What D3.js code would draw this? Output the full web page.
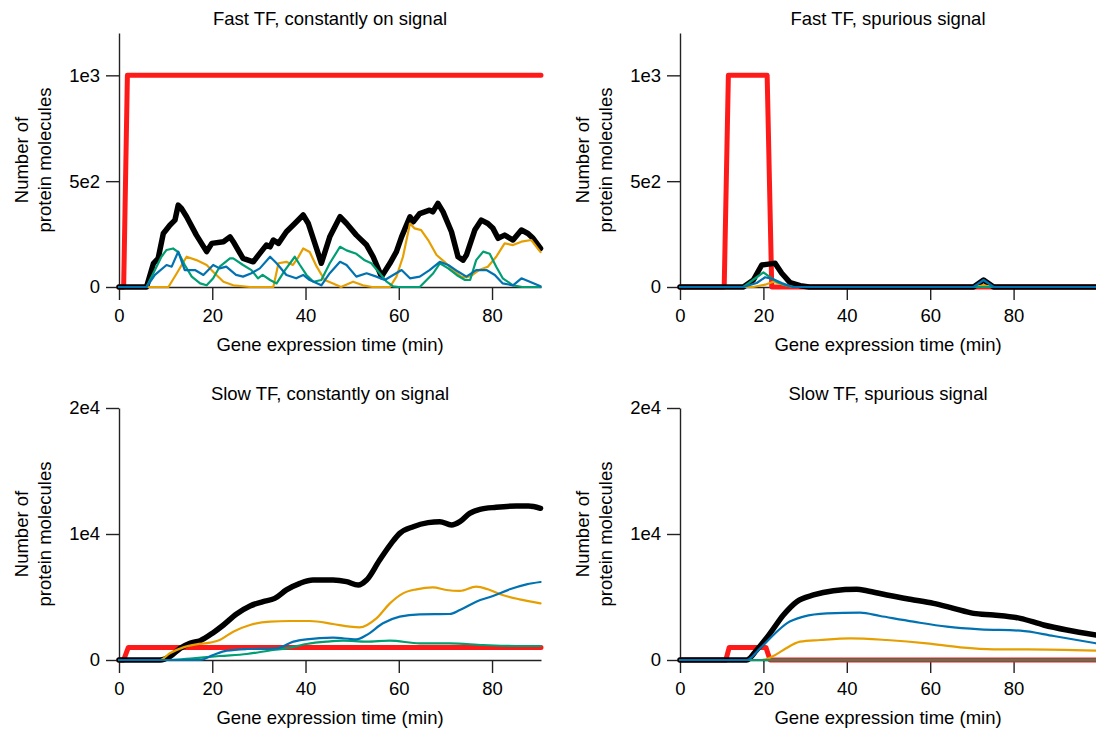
<!DOCTYPE html>
<html>
<head>
<meta charset="utf-8">
<script src="https://cdn.jsdelivr.net/npm/d3@7.9.0/dist/d3.min.js"></script>
<style>
  body { margin: 0; background: #fff; }
  svg { display: block; font-family: "Liberation Sans", Arial, Helvetica, sans-serif; }
  .tick text { font-size: 18.5px; fill: #000; }
  .domain, .tick line { stroke: #222; stroke-width: 1.4; }
</style>
</head>
<body>
<svg id="chart" width="1096" height="731"></svg>
<script>
// values, [minute, molecules]
const fastOnRed = [[0, 0], [1, 0], [1.8, 1000], [90.5, 1000]];
const fastOnBlack = [[0,0],[5.9,0],[7.4,112],[8.4,135],[9.5,253],[10.9,292],[12,316],[12.7,387],[13.4,371],[14.5,332],[16.6,245],[18.8,167],[19.9,206],[22.4,214],[23.8,237],[24.5,214],[26.6,135],[28.8,119],[30.2,159],[31.6,198],[32.4,190],[33.1,222],[34.2,206],[35.9,261],[37.7,300],[39.5,340],[40.6,300],[43.4,112],[45.2,237],[47.4,332],[48.8,300],[50.9,245],[53.1,198],[54.5,143],[56.3,49],[58.1,112],[59.5,167],[60.6,237],[62.4,332],[63.1,308],[64.5,347],[66.6,363],[67.3,355],[68.4,395],[69.5,355],[71.3,261],[72.7,143],[73.8,127],[74.5,151],[76.3,269],[77.7,316],[79.1,300],[80.2,277],[81.3,230],[82.7,245],[84.5,222],[86.3,269],[87.7,253],[88.8,230],[90.4,182]];
const fastOnOrange = [[0,0],[10.6,0],[12.4,65],[14.5,143],[16.6,127],[18.8,104],[20.5,65],[22.4,25],[24.5,8],[28.1,0],[33.1,0],[34.2,112],[35.9,119],[37.3,104],[38.3,135],[39.5,182],[40.9,165],[42.4,96],[44.1,33],[45.9,17],[47.6,0],[50.2,25],[52.3,8],[54.3,0],[58.1,0],[59.5,49],[60.9,143],[62.4,300],[63.4,277],[64.8,269],[66.3,222],[68.1,151],[69.8,119],[71.6,80],[73.4,49],[74.5,45],[75.8,57],[77.2,80],[79.1,96],[80.9,143],[82.7,206],[84.5,198],[86.3,214],[88.4,222],[90.4,165]];
const fastOnGreen = [[0,0],[5.9,0],[7.7,80],[9.1,143],[10.2,175],[11.6,182],[12.7,165],[14.1,104],[15.6,49],[17.4,17],[18.8,8],[20.2,41],[21.6,96],[23.8,135],[24.5,135],[26.6,104],[28.4,80],[29.8,41],[30.8,57],[32.4,33],[33.8,17],[35.6,80],[37.7,143],[38.8,104],[40.2,57],[41.7,25],[43.4,33],[45.2,112],[47.4,190],[48.8,173],[50.9,157],[52.7,126],[54.1,112],[55.9,65],[57.4,25],[58.8,3],[60,0],[64.5,0],[67.4,65],[68.8,112],[70.6,88],[72.4,57],[74.2,33],[75.3,33],[76.6,127],[78.1,167],[79.5,157],[80.9,96],[82.3,41],[84.5,8],[86.5,0],[90.4,0]];
const fastOnBlue = [[0,0],[5.9,0],[7.7,57],[10.2,104],[11.3,96],[12.7,167],[14.1,80],[16.3,80],[18.1,57],[20.2,104],[21.6,88],[23,96],[25.1,57],[26.6,49],[28.4,65],[30.2,88],[32.4,143],[33.8,112],[35.9,57],[38,41],[39.5,57],[40.9,33],[43.4,8],[45.2,65],[47.4,119],[48.8,104],[50.9,49],[53.1,65],[55.2,49],[57,33],[58.8,57],[60.6,80],[62.4,41],[64.5,49],[66.6,80],[68.8,119],[70.6,104],[72.7,73],[74.5,49],[76.6,80],[78.8,80],[80.6,57],[82.3,17],[84.5,8],[86.3,41],[88.1,25],[90.4,3]];

const fastSpurRed = [[0,0],[10.6,0],[11.6,1000],[20.9,1000],[22,0],[100,0]];
const fastSpurBlack = [[0,0],[15.2,0],[17.6,33],[19.6,104],[21.2,108],[22.8,112],[24.4,65],[26.4,21],[28.8,6],[31,0],[70.4,0],[72.8,33],[75.2,0],[100,0]];
const fastSpurOrange = [[0,0],[17.5,0],[20.4,11],[22.4,25],[24.8,11],[27,0],[70.4,0],[72.8,8],[75.2,0],[100,0]];
const fastSpurGreen = [[0,0],[15.2,0],[18.4,46],[20,69],[21.6,46],[23.2,25],[25.6,6],[27.5,0],[100,0]];
const fastSpurBlue = [[0,0],[15.2,0],[18.4,19],[20.4,46],[22.4,37],[24.4,19],[27,0],[70.4,0],[72.8,33],[75.2,0],[100,0]];

const slowOnRed = [[0,0],[1,0],[2,1000],[90.5,1000]];
const slowOnBlack = [[0,0],[8.8,0],[10.9,262],[13.1,925],[15.2,1323],[17.4,1534],[20.2,2170],[22.4,2780],[25.2,3650],[28.1,4290],[30.9,4630],[33.4,4890],[35.9,5560],[38.8,6085],[41.6,6350],[45.9,6350],[48.8,6220],[51.3,5950],[53.1,6350],[55.9,7940],[58.4,9260],[60.2,10050],[63.1,10580],[66.3,10900],[68.8,10980],[71.3,10710],[73.1,10980],[75.2,11640],[77.4,11960],[80.9,12120],[85.2,12220],[87.8,12220],[90.4,12040]];
const slowOnOrange = [[0,0],[8.8,0],[10.9,530],[13.8,1005],[16.6,1243],[19.5,1376],[21.6,1587],[24.5,2250],[28.1,2780],[32.4,3045],[36.6,3095],[40.9,3095],[45.9,2857],[49.5,2645],[51.6,2592],[55.2,3307],[58.1,4497],[60.9,5290],[63.8,5610],[67.3,5770],[70.2,5555],[73.1,5480],[76.6,5820],[79.1,5610],[81.6,5240],[85.9,4815],[90.4,4497]];
const slowOnGreen = [[0,0],[10.9,0],[15.9,132],[21.6,317],[27.4,476],[33.1,794],[35.9,925],[40.2,1270],[44.5,1455],[48.1,1534],[53.1,1455],[58.1,1534],[64.5,1323],[70.9,1323],[78.1,1190],[85.2,1111],[90.4,1111]];
const slowOnBlue = [[0,0],[17.4,0],[20.2,397],[23.1,740],[27.4,873],[33.8,925],[37.4,1455],[40.2,1640],[45.9,1772],[50.9,1640],[53.1,1984],[56.6,2910],[60.2,3440],[64.5,3624],[70.9,3650],[73.1,3970],[76.6,4630],[80.2,5080],[83.8,5610],[87.4,6005],[90.4,6190]];

const slowSpurRed = [[0,0],[11,0],[11.8,1000],[20.6,1000],[21.6,0],[100,0]];
const slowSpurBlack = [[0,0],[16,0],[18.4,794],[21.6,2116],[24.8,3571],[28,4630],[32,5160],[36.8,5500],[42.4,5610],[44.8,5500],[49.6,5160],[55.2,4815],[60.8,4497],[65.6,4100],[70.4,3700],[75.2,3571],[81.6,3307],[87.2,2780],[92.8,2380],[99.8,1984]];
const slowSpurOrange = [[0,0],[19.5,0],[22,250],[24.8,794],[28.8,1455],[33.6,1587],[40.8,1720],[49.6,1587],[59.2,1323],[67.2,1005],[75.2,849],[83.2,849],[99.8,741]];
const slowSpurGreen = [[0,0],[100,0]];
const slowSpurBlue = [[0,0],[16,0],[19.2,925],[22.4,1984],[25.6,2910],[29.6,3440],[35.2,3700],[43.2,3757],[48,3490],[56,3040],[64,2645],[72,2434],[81.6,2328],[89.6,1905],[99.8,1323]];

const titles = ["Fast TF, constantly on signal", "Fast TF, spurious signal",
                "Slow TF, constantly on signal", "Slow TF, spurious signal"];
const xTicks = [0, 20, 40, 60, 80];
const fastYTicks = [0, 500, 1000];
const fastYLabels = ["0", "5e2", "1e3"];
const slowYTicks = [0, 10000, 20000];
const slowYLabels = ["0", "1e4", "2e4"];

const colors = { red: "#ff1a1a", black: "#000000", orange: "#e69f00", green: "#009e73", blue: "#0072b2" };

const panels = [
  { title: titles[0], left: 119, right: 541, top: 33, bottom: 287, xMax: 90.5, yMax: 1200,
    yTicks: fastYTicks, yLabels: fastYLabels, curve: d3.curveLinear,
    series: [fastOnRed, fastOnBlack, fastOnOrange, fastOnGreen, fastOnBlue] },
  { title: titles[1], left: 680, right: 1097, top: 33, bottom: 287, xMax: 100, yMax: 1200,
    yTicks: fastYTicks, yLabels: fastYLabels, curve: d3.curveLinear,
    series: [fastSpurRed, fastSpurBlack, fastSpurOrange, fastSpurGreen, fastSpurBlue] },
  { title: titles[2], left: 119, right: 541, top: 408, bottom: 660, xMax: 90.5, yMax: 20000,
    yTicks: slowYTicks, yLabels: slowYLabels, curve: d3.curveMonotoneX,
    series: [slowOnRed, slowOnBlack, slowOnOrange, slowOnGreen, slowOnBlue] },
  { title: titles[3], left: 680, right: 1097, top: 408, bottom: 660, xMax: 100, yMax: 20000,
    yTicks: slowYTicks, yLabels: slowYLabels, curve: d3.curveMonotoneX,
    series: [slowSpurRed, slowSpurBlack, slowSpurOrange, slowSpurGreen, slowSpurBlue] }
];
const seriesColors = [colors.red, colors.black, colors.orange, colors.green, colors.blue];
const seriesWidths = [5, 5.5, 2.2, 2.2, 2.2];

const svg = d3.select("#chart");

panels.forEach((p) => {
  const x = d3.scaleLinear().domain([0, p.xMax]).range([p.left, p.right]);
  const y = d3.scaleLinear().domain([0, p.yMax]).range([p.bottom, p.top]);
  const g = svg.append("g");
  const midX = p.left === 119 ? 330 : 888;

  g.append("g")
    .attr("transform", `translate(0,${p.bottom})`)
    .call(d3.axisBottom(x).tickValues(xTicks).tickSize(13).tickSizeOuter(0).tickPadding(9))
    .call((a) => a.selectAll("text").attr("dy", "0.72em"));

  g.append("g")
    .attr("transform", `translate(${p.left},0)`)
    .call(d3.axisLeft(y).tickValues(p.yTicks).tickSize(13).tickSizeOuter(0).tickPadding(6)
      .tickFormat((d, i) => p.yLabels[i]));

  // red steps stay straight, the rest follow the panel curve
  p.series.forEach((s, i) => {
    const line = d3.line()
      .x((d) => x(d[0]))
      .y((d) => y(d[1]))
      .curve(i === 0 ? d3.curveLinear : p.curve);
    g.append("path")
      .attr("d", line(s))
      .attr("fill", "none")
      .attr("stroke", seriesColors[i])
      .attr("stroke-width", seriesWidths[i])
      .attr("stroke-linejoin", "round")
      .attr("stroke-linecap", "round");
  });

  g.append("text")
    .attr("x", midX)
    .attr("y", p.top - 8)
    .attr("text-anchor", "middle")
    .attr("font-size", 18.5)
    .text(p.title);

  g.append("text")
    .attr("x", midX)
    .attr("y", p.bottom + 64)
    .attr("text-anchor", "middle")
    .attr("font-size", 18.5)
    .text("Gene expression time (min)");

  const my = (p.top + p.bottom) / 2;
  const yt = g.append("text")
    .attr("transform", `translate(${p.left - 91},${my}) rotate(-90)`)
    .attr("text-anchor", "middle")
    .attr("font-size", 18.5);
  yt.append("tspan").attr("x", 0).attr("y", 0).text("Number of");
  yt.append("tspan").attr("x", 0).attr("y", 23).text("protein molecules");
});
</script>
</body>
</html>
